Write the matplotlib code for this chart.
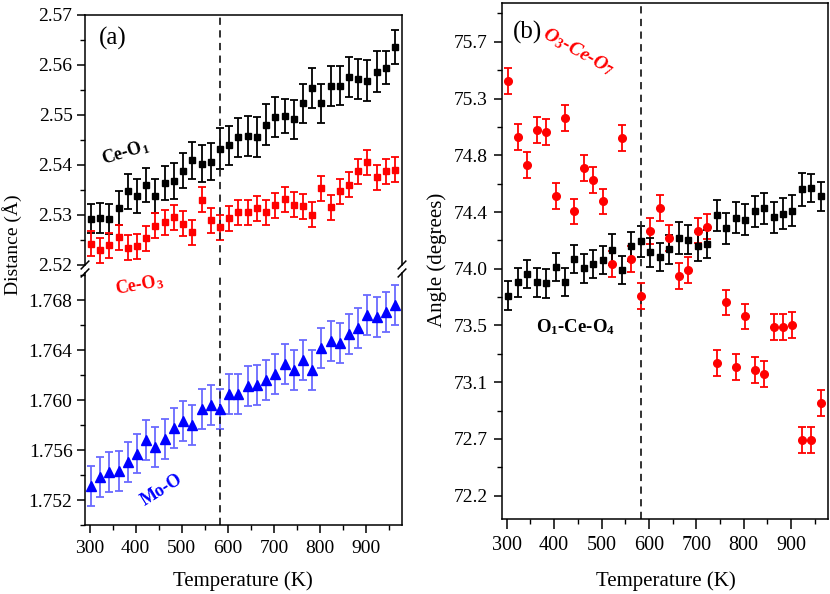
import matplotlib
matplotlib.use('Agg')
import matplotlib.pyplot as plt
from matplotlib.ticker import MultipleLocator, FixedLocator, FixedFormatter

plt.rcParams['font.family'] = ['Liberation Serif', 'DejaVu Serif']
plt.rcParams['mathtext.fontset'] = 'custom'
plt.rcParams['mathtext.rm'] = 'Liberation Serif'
plt.rcParams['mathtext.bf'] = 'Liberation Serif:bold'
plt.rcParams['mathtext.it'] = 'Liberation Serif:italic'
plt.rcParams['font.size'] = 12

# ---------------- data ----------------
temps = [303, 323, 343, 363, 383, 403, 423, 443, 463, 483, 503, 523, 543, 563, 583,
         603, 623, 643, 663, 683, 703, 723, 743, 763, 783, 803, 823, 843, 863, 883,
         903, 923, 943, 963]
transition_T = 583

ce_o1 = [2.5292, 2.5293, 2.5292, 2.5313, 2.5347, 2.5337, 2.5360, 2.5337, 2.5363, 2.5367,
         2.5388, 2.5409, 2.5402, 2.5406, 2.5432, 2.5439, 2.5455, 2.5457, 2.5455, 2.5480,
         2.5495, 2.5497, 2.5491, 2.5523, 2.5553, 2.5523, 2.5558, 2.5558, 2.5576, 2.5571,
         2.5568, 2.5586, 2.5594, 2.5635]
ce_o1_err = [0.0029, 0.0030, 0.0030, 0.0034, 0.0035, 0.0034, 0.0034, 0.0034, 0.0034, 0.0036,
             0.0035, 0.0037, 0.0037, 0.0037, 0.0041, 0.0039, 0.0039, 0.0040, 0.0040, 0.0041,
             0.0040, 0.0034, 0.0039, 0.0039, 0.0040, 0.0039, 0.0040, 0.0039, 0.0040, 0.0040,
             0.0041, 0.0041, 0.0033, 0.0034]

ce_o3 = [2.5242, 2.5229, 2.5239, 2.5255, 2.5234, 2.5237, 2.5253, 2.5278, 2.5285, 2.5295,
         2.5282, 2.5265, 2.5330, 2.5289, 2.5275, 2.5293, 2.5305, 2.5305, 2.5313, 2.5305,
         2.5319, 2.5331, 2.5320, 2.5317, 2.5300, 2.5353, 2.5315, 2.5347, 2.5360, 2.5387,
         2.5405, 2.5375, 2.5387, 2.5390]
ce_o3_err = [0.0025] * 34

mo_o = [1.75312, 1.75384, 1.75424, 1.75435, 1.75507, 1.75573, 1.75685, 1.75627, 1.75693, 1.75781,
        1.75832, 1.75805, 1.75928, 1.75965, 1.75928, 1.76048, 1.76048, 1.76112, 1.76123, 1.76163,
        1.76213, 1.76293, 1.76240, 1.76320, 1.76240, 1.76421, 1.76472, 1.76461, 1.76533, 1.76581,
        1.76683, 1.76664, 1.76709, 1.76765]
mo_o_err = [0.0016] * 34

ang_o1_ce_o4 = [73.742, 73.845, 73.909, 73.845, 73.837, 73.963, 73.847, 74.025, 73.953, 73.986,
                74.017, 74.097, 73.942, 74.122, 74.161, 74.076, 74.040, 74.099, 74.187, 74.174,
                74.122, 74.140, 74.364, 74.261, 74.343, 74.330, 74.395, 74.415, 74.348, 74.374,
                74.397, 74.562, 74.574, 74.508]
ang_o1_err = [0.11, 0.11, 0.11, 0.11, 0.11, 0.11, 0.11, 0.11, 0.11, 0.11,
              0.11, 0.12, 0.11, 0.11, 0.12, 0.11, 0.11, 0.11, 0.12, 0.11,
              0.11, 0.11, 0.12, 0.12, 0.12, 0.12, 0.12, 0.12, 0.12, 0.12,
              0.12, 0.125, 0.11, 0.11]

ang_o3_ce_o7 = [75.399, 74.965, 74.752, 75.022, 75.006, 74.513, 75.114, 74.392, 74.726, 74.636,
                74.469, 73.986, 74.958, 74.025, 73.742, 74.238, 74.418, 74.184, 73.896, 73.942,
                74.245, 74.276, 73.223, 73.690, 73.192, 73.582, 73.166, 73.138, 73.498, 73.503,
                73.513, 72.629, 72.629, 72.912]
ang_o3_err = [0.10] * 34

ang_ticks = [72.2, 72.6375, 73.075, 73.5125, 73.95, 74.3875, 74.825, 75.2625, 75.7]
ang_tick_labels = ['72.2', '72.7', '73.1', '73.5', '74.0', '74.4', '74.8', '75.3', '75.7']

# ---------------- figure ----------------
W, H = 830, 594
fig = plt.figure(figsize=(W / 100, H / 100), dpi=100)

def fr(x0, y0, x1, y1):
    return [x0 / W, 1 - y1 / H, (x1 - x0) / W, (y1 - y0) / H]

ax_top = fig.add_axes(fr(85, 15, 402, 265))
ax_bot = fig.add_axes(fr(85, 273, 402, 525))
ax_r = fig.add_axes(fr(502, 3, 828, 519))

xlim = (290, 978)
eb_kw = dict(capsize=2.6, elinewidth=1.3, capthick=1.3, linestyle='none')

# top: Ce-O distances
ax_top.errorbar(temps, ce_o1, yerr=ce_o1_err, fmt='s', color='black', ms=5, **eb_kw)
ax_top.errorbar(temps, ce_o3, yerr=ce_o3_err, fmt='s', color='red', ms=5, **eb_kw)
ax_top.set_ylim(2.52, 2.57)
ax_top.yaxis.set_major_locator(MultipleLocator(0.01))
ax_top.yaxis.set_minor_locator(MultipleLocator(0.005))
ax_top.yaxis.set_major_formatter(plt.FormatStrFormatter('%.2f'))

# bottom: Mo-O
ax_bot.errorbar(temps, mo_o, yerr=mo_o_err, fmt='^', color='blue', ms=6.5,
                ecolor='#6a6aff', **eb_kw)
ax_bot.set_ylim(1.750, 1.7702)
ax_bot.yaxis.set_major_locator(FixedLocator([1.752, 1.756, 1.760, 1.764, 1.768]))
ax_bot.yaxis.set_minor_locator(FixedLocator([1.750, 1.754, 1.758, 1.762, 1.766, 1.770]))
ax_bot.yaxis.set_major_formatter(plt.FormatStrFormatter('%.3f'))

for ax in (ax_top, ax_bot):
    ax.set_xlim(*xlim)
    ax.axvline(transition_T, color='#222222', ls=(0, (4, 3)), lw=1.3)
    ax.tick_params(axis='both', which='major', direction='out', length=6, width=1.1,
                   labelsize=14, right=False, top=False, pad=3)
    ax.tick_params(axis='both', which='minor', direction='out', length=3.5, width=1.0,
                   right=False, top=False)
    for s in ax.spines.values():
        s.set_linewidth(1.1)

ax_top.spines['bottom'].set_visible(False)
ax_top.tick_params(axis='x', which='both', bottom=False, labelbottom=False)
ax_bot.spines['top'].set_visible(False)
ax_bot.xaxis.set_major_locator(MultipleLocator(100))
ax_bot.xaxis.set_minor_locator(MultipleLocator(50))
ax_bot.xaxis.set_major_formatter(plt.FormatStrFormatter('%d'))
ax_bot.tick_params(axis='x', which='major', labelsize=14, pad=5)

# break marks
d = 0.012
kw = dict(color='black', lw=1.1, clip_on=False)
for x in (0, 1):
    ax_top.plot([x - d, x + d], [-d * 1.3, d * 1.3], transform=ax_top.transAxes, **kw)
    ax_bot.plot([x - d, x + d], [1 - d * 1.3, 1 + d * 1.3], transform=ax_bot.transAxes, **kw)

# right panel: angles
ax_r.errorbar(temps, ang_o3_ce_o7, yerr=ang_o3_err, fmt='o', color='red', ms=5.5, **eb_kw)
ax_r.errorbar(temps, ang_o1_ce_o4, yerr=ang_o1_err, fmt='s', color='black', ms=5, **eb_kw)
ax_r.axvline(transition_T, color='#222222', ls=(0, (4, 3)), lw=1.3)
ax_r.set_xlim(*xlim)
ax_r.set_ylim(72.02, 76.0)
ax_r.yaxis.set_major_locator(FixedLocator(ang_ticks))
ax_r.yaxis.set_major_formatter(FixedFormatter(ang_tick_labels))
minor_r = [(a + b) / 2 for a, b in zip(ang_ticks[:-1], ang_ticks[1:])] + [75.92]
ax_r.yaxis.set_minor_locator(FixedLocator(minor_r))
ax_r.xaxis.set_major_locator(MultipleLocator(100))
ax_r.xaxis.set_minor_locator(MultipleLocator(50))
ax_r.xaxis.set_major_formatter(plt.FormatStrFormatter('%d'))
ax_r.tick_params(axis='both', which='major', direction='out', length=6, width=1.1,
                 labelsize=14, right=False, top=False)
ax_r.tick_params(axis='x', which='major', length=7, labelsize=14.5, pad=5)
ax_r.tick_params(axis='y', which='major', pad=4)
ax_r.tick_params(axis='both', which='minor', direction='out', length=3.5, width=1.0,
                 right=False, top=False)
for s in ax_r.spines.values():
    s.set_linewidth(1.1)

# labels
fig.text(12 / W, 1 - 245 / H, 'Distance (Å)', rotation=90, ha='center', va='center', fontsize=14)
fig.text(243 / W, 1 - 581 / H, 'Temperature (K)', ha='center', va='center', fontsize=15)
fig.text(437 / W, 1 - 260 / H, 'Angle (degrees)', rotation=90, ha='center', va='center', fontsize=15)
fig.text(666 / W, 1 - 581 / H, 'Temperature (K)', ha='center', va='center', fontsize=15)

# annotations
fig.text(113 / W, 1 - 38 / H, '(a)', ha='center', va='center', fontsize=18)
fig.text(125 / W, 1 - 152 / H, r'Ce-O$_{\mathbf{1}}$', color='black', fontweight='bold',
         rotation=17, ha='center', va='center', fontsize=13)
fig.text(139 / W, 1 - 285 / H, r'Ce-O$_{\mathbf{3}}$', color='red', fontweight='bold',
         rotation=10, ha='center', va='center', fontsize=13)
fig.text(162 / W, 1 - 490 / H, 'Mo-O', color='blue', fontweight='bold',
         rotation=32, ha='center', va='center', fontsize=13)
fig.text(527 / W, 1 - 32 / H, '(b)', ha='center', va='center', fontsize=18)
fig.text(578 / W, 1 - 52 / H, r'O$_{\mathbf{3}}$-Ce-O$_{\mathbf{7}}$', color='red',
         fontweight='bold', fontstyle='italic', rotation=-29, ha='center', va='center',
         fontsize=14)
fig.text(576 / W, 1 - 327 / H, r'O$_{\mathbf{1}}$-Ce-O$_{\mathbf{4}}$', color='black',
         fontweight='bold', ha='center', va='center', fontsize=13.5)

fig.savefig('out.png', dpi=100)
